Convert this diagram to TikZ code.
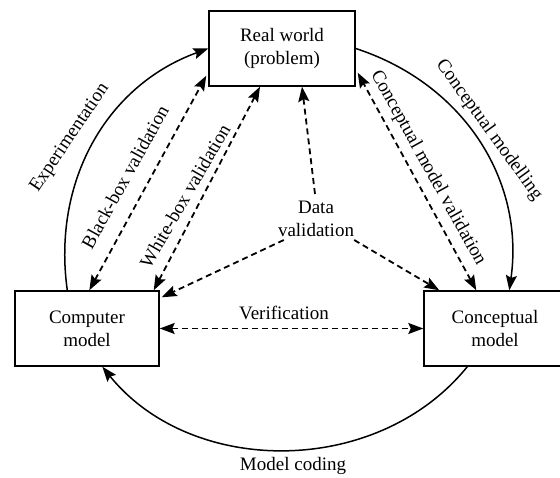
\documentclass[tikz,border=0pt]{standalone}
\usepackage{fontspec}
\setmainfont{Liberation Serif}
\usetikzlibrary{calc,arrows.meta}
\begin{document}
\begin{tikzpicture}[x=1pt,y=1pt,
  txt/.style={font=\fontsize{19}{23}\selectfont},
  box/.style={txt, draw, line width=1.4pt, minimum width=#1, minimum height=75pt,
    inner sep=0pt, align=center},
  lbl/.style={txt, inner sep=0pt, align=center},
  tip/.tip={Stealth[length=15pt,width=11pt,inset=2.5pt]},
  flow/.style={line width=1.5pt, -tip},
  check/.style={line width=1.8pt, dash pattern=on 6pt off 4pt, tip-tip},
  feed/.style={line width=1.8pt, dash pattern=on 6pt off 4pt, -tip}]
\useasboundingbox (0,0) rectangle (560,477);
\clip (0,0) rectangle (560,477);

% the three models
\node[box=146pt] (rw) at (282,428.5) {Real world\\(problem)};
\node[box=144pt] (cm) at (87,148.5) {Computer\\model};
\node[box=142pt] (cp) at (495,148.5) {Conceptual\\model};

% the data validation hub
\node[lbl] (dv) at (316,258) {Data\\validation};

% model building cycle
\draw[flow] ($(cm.north west)+(53,0)$) to[out=98,in=200] (rw.west);
\draw[flow] (rw.east) to[out=-18,in=82] ($(cp.north west)+(86,0)$);
\draw[flow] ($(cp.south west)+(44,0)$) to[out=-129,in=-51] ($(cm.south west)+(88,0)$);

% validation and verification
\draw[check] ($(cm.north west)+(75,0)$) -- ($(rw.south west)+(-2,11)$);
\draw[check] ($(cm.north east)+(-6,0)$) -- ($(rw.south)+(-22,0)$);
\draw[check] ($(cp.north west)+(53,0)$) -- ($(rw.south east)+(2,14)$);
\draw[check] (cm.east) -- (cp.west);

\draw[feed] ($(dv.north)+(-1,7)$) -- ($(rw.south)+(20,0)$);
\draw[feed] ($(dv.south west)+(6,-3)$) -- ($(cm.north east)+(2,-7)$);
\draw[feed] ($(dv.south east)+(0,-3)$) -- ($(cp.north west)+(16,0)$);

% labels
\node[lbl, rotate=56] (lexp) at (70,339) {Experimentation};
\node[lbl, rotate=61] (lbb) at (125,300) {Black-box validation};
\node[lbl, rotate=60] (lwb) at (185,281) {White-box validation};
\node[lbl, rotate=-61] (lcmv) at (428,309) {Conceptual model validation};
\node[lbl, rotate=-54] (lcm) at (489,347) {Conceptual modelling};
\node[lbl] (lver) at (284,164) {Verification};
\node[lbl, anchor=base] (lmc) at (293,6) {Model coding};
\end{tikzpicture}
\end{document}
